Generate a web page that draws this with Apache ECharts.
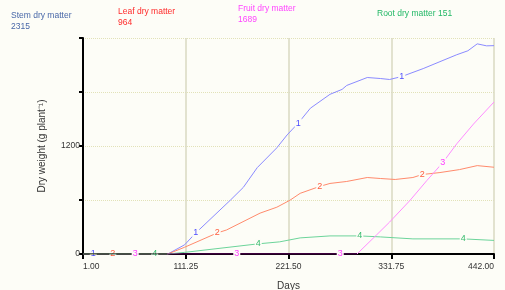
<!DOCTYPE html>
<html><head><meta charset="utf-8">
<script src="https://cdn.jsdelivr.net/npm/echarts@6/dist/echarts.min.js"></script>
<style>html,body{margin:0;padding:0;background:#fdfdf7}#c{width:505px;height:290px}</style>
</head><body><div id="c"></div>
<script>
// ---- data ----
const seriesNames = ['Stem dry matter', 'Leaf dry matter', 'Fruit dry matter', 'Root dry matter'];
const seriesTags = ['1', '2', '3', '4'];
const xTicks = ['1.00', '111.25', '221.50', '331.75', '442.00'];
const yTickLabels = ['0', '1200'];

const stemDays   = [1, 12, 92, 110, 122, 159, 173, 188, 209, 220, 232, 245, 266, 279, 284, 295, 306, 320, 330, 343, 366, 384, 402, 414, 424, 434, 442];
const stemValues = [0, 0, 0, 102, 234, 597, 740, 960, 1180, 1323, 1455, 1620, 1774, 1829, 1873, 1917, 1961, 1950, 1939, 1972, 2060, 2137, 2214, 2258, 2335, 2313, 2315];
const stemLabelDays = [12, 122, 232, 343];

const leafDays   = [1, 33, 92, 110, 145, 155, 191, 209, 223, 234, 255, 266, 284, 306, 320, 336, 355, 365, 384, 405, 424, 442];
const leafValues = [0, 0, 0, 75, 234, 267, 454, 520, 597, 674, 751, 784, 806, 850, 839, 828, 850, 883, 905, 938, 982, 964];
const leafLabelDays = [33, 145, 255, 365];

const fruitDays   = [1, 57, 166, 277, 295, 316, 330, 352, 370, 387, 402, 420, 442];
const fruitValues = [0, 0, 0, 0, 0, 212, 355, 597, 817, 1015, 1224, 1444, 1689];
const fruitLabelDays = [57, 166, 277, 387];

const rootDays   = [1, 78, 92, 110, 189, 212, 234, 266, 298, 320, 355, 409, 442];
const rootValues = [0, 0, 0, 18, 113, 135, 179, 201, 201, 190, 168, 168, 151];
const rootLabelDays = [78, 189, 298, 409];

// ---- styles ----
const FONT = 'Liberation Sans, Arial, sans-serif';
const BG = '#fdfdf7';
const lineColors = ['#8a8aff', '#ff8a6c', '#ff8cff', '#6cd49a'];
const tagColors = ['#4d4dff', '#ff5a3c', '#ff3cff', '#35bb6c'];
const legendColors = ['#4867a8', '#ff2a2a', '#ff44ff', '#22b866'];

function build(days, values, labelDays, idx) {
  return days.map((d, i) => {
    const item = { value: [d - 1, values[i]] };
    if (labelDays.indexOf(d) >= 0) {
      item.label = {
        show: true, position: 'inside', formatter: seriesTags[idx],
        color: tagColors[idx], fontSize: 9, fontFamily: FONT,
        backgroundColor: BG, padding: [0, 1]
      };
    }
    return item;
  });
}

const all = [
  [stemDays, stemValues, stemLabelDays],
  [leafDays, leafValues, leafLabelDays],
  [fruitDays, fruitValues, fruitLabelDays],
  [rootDays, rootValues, rootLabelDays]
];
const drawOrder = [0, 1, 3, 2];

const series = drawOrder.map(i => {
  const ls = { width: 1 };
  if (i !== 2) ls.color = lineColors[i];
  return {
    type: 'line',
    name: seriesNames[i],
    data: build(all[i][0], all[i][1], all[i][2], i),
    showSymbol: true,
    symbol: 'circle',
    symbolSize: 0.1,
    itemStyle: { color: 'rgba(0,0,0,0)' },
    lineStyle: ls,
    silent: true,
    animation: false,
    z: 2 + drawOrder.indexOf(i)
  };
});

const legendPos = [[11, 10], [118, 6], [238, 3], [377, 8]];
const graphics = seriesNames.map((n, i) => {
  const vals = all[i][1];
  const last = vals[vals.length - 1];
  const txt = i === 3 ? n + ' ' + last : n + '\n' + last;
  return {
    type: 'text', left: legendPos[i][0], top: legendPos[i][1],
    style: { text: txt, fill: legendColors[i], font: '8.5px ' + FONT, lineHeight: 11 }
  };
});

const chart = echarts.init(document.getElementById('c'), null, { renderer: 'canvas' });
chart.setOption({
  backgroundColor: BG,
  animation: false,
  grid: { left: 83, right: 11, top: 38, bottom: 36, containLabel: false, outerBoundsMode: 'none' },
  graphic: graphics,
  visualMap: {
    type: 'piecewise', show: false, seriesIndex: 3, dimension: 0,
    pieces: [
      { lt: 90, color: '#000000' },
      { gte: 90, lt: 294, color: '#7a007a' },
      { gte: 294, color: lineColors[2] }
    ]
  },
  xAxis: {
    type: 'value', min: 0, max: 441, interval: 110.25,
    name: 'Days', nameLocation: 'middle', nameGap: 27,
    nameTextStyle: { fontSize: 10, fontFamily: FONT, color: '#333' },
    axisLine: { show: true, onZero: false, lineStyle: { color: '#000', width: 2 } },
    axisTick: { show: true, length: 5, lineStyle: { color: '#000', width: 2 } },
    axisLabel: {
      fontSize: 8.5, fontFamily: FONT, color: '#333', margin: 8,
      showMinLabel: true, showMaxLabel: true,
      alignMinLabel: 'left', alignMaxLabel: 'right',
      formatter: v => {
        const s = (v + 1).toFixed(2);
        return xTicks.indexOf(s) >= 0 ? s : '';
      }
    },
    splitLine: { show: true, lineStyle: { color: '#d8d8c2', width: 1.5 } }
  },
  yAxis: {
    type: 'value', min: 0, max: 2400, interval: 600,
    name: 'Dry weight (g plant\u207B\u00B9)', nameLocation: 'middle', nameGap: 36,
    nameTextStyle: { fontSize: 10, fontFamily: FONT, color: '#333' },
    axisLine: { show: true, lineStyle: { color: '#000', width: 2 } },
    axisTick: { show: true, length: 4, lineStyle: { color: '#000', width: 2 } },
    axisLabel: {
      fontSize: 8.5, fontFamily: FONT, color: '#333', margin: 3,
      formatter: v => yTickLabels.indexOf(String(v)) >= 0 ? String(v) : ''
    },
    splitLine: { show: true, lineStyle: { color: '#e2e2b8', width: 1, type: 'dotted' } }
  },
  series: series
});
</script>
</body></html>
